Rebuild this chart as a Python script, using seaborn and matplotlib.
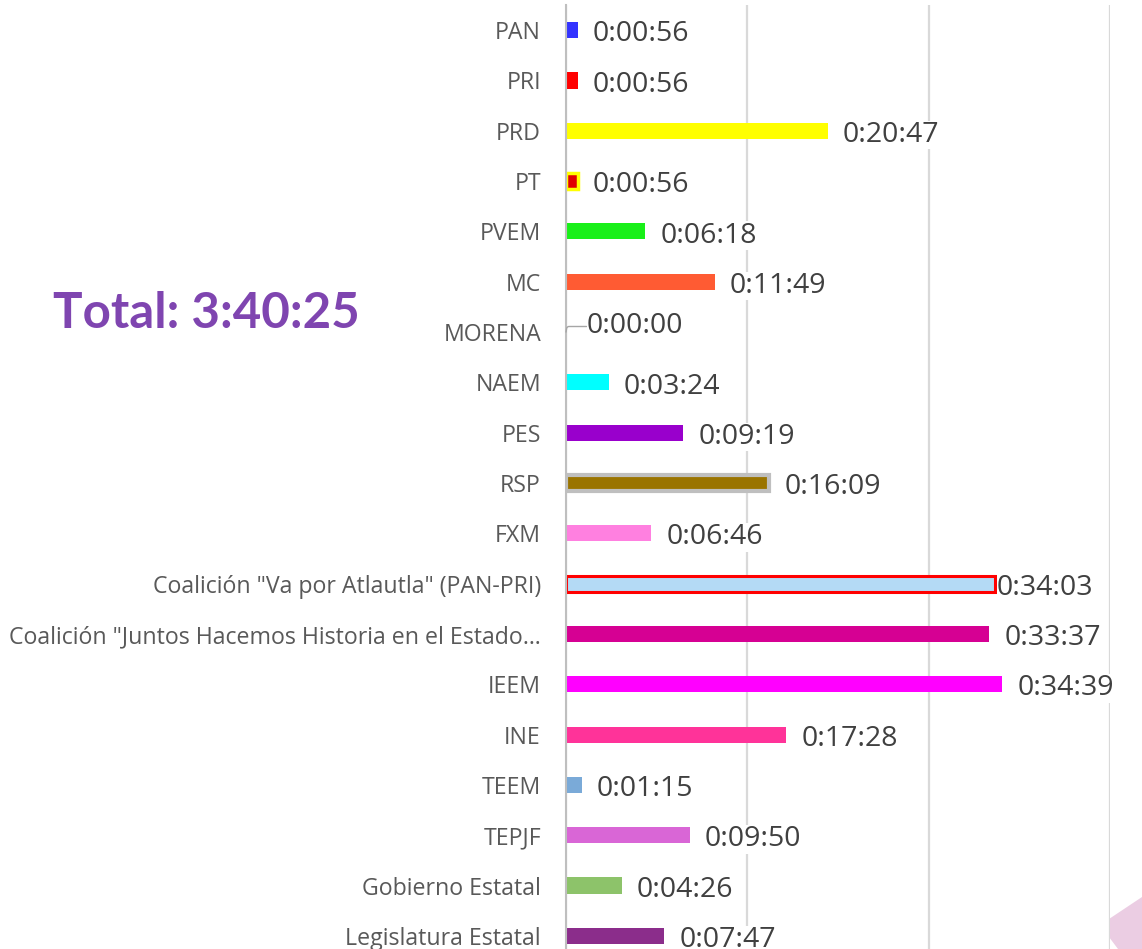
import matplotlib
matplotlib.use('Agg')
import matplotlib.pyplot as plt
import seaborn as sns
import pandas as pd
from matplotlib.patches import Polygon

categories = ["PAN", "PRI", "PRD", "PT", "PVEM", "MC", "MORENA", "NAEM", "PES", "RSP", "FXM",
              'Coalición "Va por Atlautla" (PAN-PRI)',
              'Coalición "Juntos Hacemos Historia en el Estado…',
              "IEEM", "INE", "TEEM", "TEPJF", "Gobierno Estatal", "Legislatura Estatal"]
durations = ["0:00:56", "0:00:56", "0:20:47", "0:00:56", "0:06:18", "0:11:49", "0:00:00", "0:03:24",
             "0:09:19", "0:16:09", "0:06:46", "0:34:03", "0:33:37", "0:34:39", "0:17:28", "0:01:15",
             "0:09:50", "0:04:26", "0:07:47"]
bar_colors = ["#3333FF", "#FF0000", "#FFFF00", "#E00000", "#19F019", "#FF5B33", "#A6A6A6", "#00FFFF",
              "#9900CC", "#9A7400", "#FF80E0", "#B4DAF5", "#D60093", "#FF00FF", "#FF3399", "#7AAAD8",
              "#D966D6", "#8DC36A", "#8B2D8B"]
edge_colors = {"PT": ("#FFFF00", 2.5), "RSP": ("#BFBFBF", 3.0),
               'Coalición "Va por Atlautla" (PAN-PRI)': ("#FF0000", 2.2)}
total_text = "Total: 3:40:25"
axis_max_days = 0.03


def to_sec(s):
    h, m, sec = map(int, s.split(":"))
    return h * 3600 + m * 60 + sec


secs = [to_sec(d) for d in durations]
df = pd.DataFrame({"cat": categories, "sec": secs})

sns.set_style("white")
plt.rcParams["font.family"] = ["Open Sans", "DejaVu Sans"]

W, H = 1142, 949
fig = plt.figure(figsize=(W / 100, H / 100), dpi=100)
ax = fig.add_axes([566 / W, -12 / H, (1110 - 566) / W, (961 - 5) / H])

sns.barplot(data=df, x="sec", y="cat", hue="cat", palette=dict(zip(categories, bar_colors)),
            width=0.32, legend=False, ax=ax, orient="h", saturation=1, dodge=False)

xmax = axis_max_days * 86400
ax.set_xlim(0, xmax)
ax.set_ylim(len(categories) - 0.5, -0.5)
ax.set_xticks([xmax / 3 * i for i in range(4)])
ax.set_xticklabels([])
ax.tick_params(axis="x", length=0)
ax.set_axisbelow(True)
ax.xaxis.grid(True, color="#D9D9D9", lw=1.6)
ax.set_xlabel("")
ax.set_ylabel("")
for s in ["top", "right", "bottom"]:
    ax.spines[s].set_visible(False)
ax.spines["left"].set_color("#BFBFBF")
ax.spines["left"].set_linewidth(1.5)

ax.set_yticks(range(len(categories)))
ax.set_yticklabels(categories, fontsize=16.7, color="#595959")
ax.tick_params(axis="y", which="major", length=0, pad=18)
ax.set_yticks([i - 0.5 for i in range(len(categories) + 1)], minor=True)
ax.tick_params(axis="y", which="minor", length=6.5, width=1.2, color="#BFBFBF")

# style patches by category position
for p in ax.patches:
    idx = int(round(p.get_y() + p.get_height() / 2))
    if 0 <= idx < len(categories):
        cat = categories[idx]
        if cat in edge_colors:
            ec, lw = edge_colors[cat]
            p.set_edgecolor(ec)
            p.set_linewidth(lw)
        else:
            p.set_linewidth(0)

for i, (lab, v) in enumerate(zip(durations, secs)):
    if v == 0:
        ax.annotate(lab, xy=(0, i), xytext=(15, 4), textcoords="offset points",
                    va="center", ha="left", fontsize=20.5, color="#404040",
                    bbox=dict(fc="white", ec="none", pad=0.3),
                    arrowprops=dict(arrowstyle="-", color="#A6A6A6", lw=1,
                                    shrinkA=0, shrinkB=0,
                                    connectionstyle="angle,angleA=0,angleB=80,rad=2"))
    else:
        dx = 1.5 if categories[i] in edge_colors and v > 1500 else 11
        ax.annotate(lab, xy=(v, i), xytext=(dx, -3), textcoords="offset points",
                    va="center", ha="left", fontsize=20.5, color="#404040",
                    bbox=dict(fc="white", ec="none", pad=0.3), annotation_clip=False)

fig.text(53 / W, 1 - 313 / H, total_text, fontsize=35.5, fontweight="bold",
         color="#7F45B0", va="center", ha="left", family=["Lato", "DejaVu Sans"])

# faint watermark shapes in bottom-right corner
fig.patches.append(Polygon([[1100 / W, 1 - 925 / H], [1142 / W, 1 - 897 / H], [1142 / W, 0],
                            [1118 / W, 0]], closed=True, transform=fig.transFigure,
                           fc="#EBCDE3", ec="none", zorder=-1))
fig.patches.append(Polygon([[1082 / W, 1 - 940 / H], [1092 / W, 1 - 936 / H], [1110 / W, 0],
                            [1082 / W, 0]], closed=True, transform=fig.transFigure,
                           fc="#E3D5EC", ec="none", zorder=-1))

fig.savefig("out.png", dpi=100)
